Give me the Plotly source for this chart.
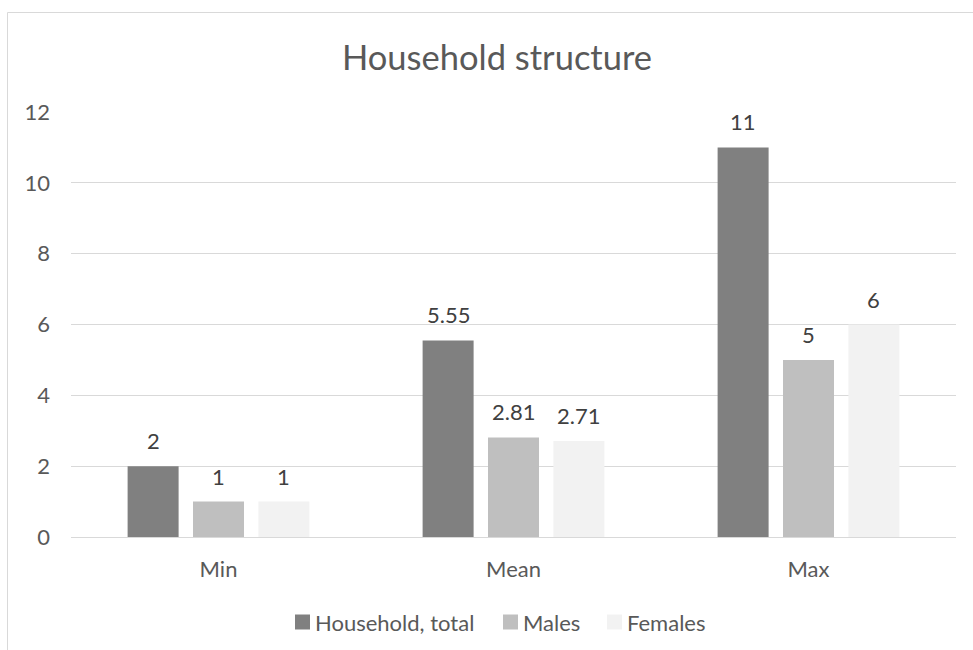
import plotly.graph_objects as go

# Household size statistics
categories = ["Min", "Mean", "Max"]
series_names = ["Household, total", "Males", "Females"]
household_total = [2, 5.55, 11]
males = [1, 2.81, 5]
females = [1, 2.71, 6]
y_ticks = [0, 2, 4, 6, 8, 10, 12]

series_values = [household_total, males, females]
series_colors = ["#808080", "#BFBFBF", "#F2F2F2"]

FONT = "Lato"
BARGAP = 0.335
GROUPGAP = 0.22

W, H = 973, 650
ML, MR, MT, MB = 71, 17, 112, 113
plot_w = W - ML - MR
plot_h = H - MT - MB


def px_x(px):
    """Horizontal pixel -> paper coordinate."""
    return (px - ML) / plot_w


def px_y(py):
    """Vertical pixel (from top) -> paper coordinate."""
    return (H - MB - py) / plot_h


fig = go.Figure()
for name, vals, col in zip(series_names, series_values, series_colors):
    fig.add_trace(go.Bar(
        x=categories, y=vals, name=name,
        marker=dict(color=col, line=dict(width=0)),
        hoverinfo="x+y+name", showlegend=False,
    ))

# Value labels above each bar, placed on the data axes
slot_px = plot_w / len(categories) * (1 - BARGAP) / len(series_values)
for j, vals in enumerate(series_values):
    for cat, v in zip(categories, vals):
        fig.add_annotation(
            x=cat, y=v, xref="x", yref="y",
            text=f"{v:g}", showarrow=False,
            xshift=(j - 1) * slot_px, yshift=10,
            yanchor="bottom", xanchor="center",
            font=dict(family=FONT, size=22, color="#404040"),
        )

# Legend below the axis: swatch + label for each series
legend_left = [295, 503, 607]
swatch = 15
legend_mid = 622
for name, col, x0 in zip(series_names, series_colors, legend_left):
    fig.add_shape(type="rect", xref="paper", yref="paper",
                  x0=px_x(x0), x1=px_x(x0 + swatch),
                  y0=px_y(legend_mid - swatch / 2), y1=px_y(legend_mid + swatch / 2),
                  fillcolor=col, line=dict(width=0))
    fig.add_annotation(x=px_x(x0 + swatch + 3), y=px_y(legend_mid),
                       xref="paper", yref="paper", text=name, showarrow=False,
                       xanchor="left", yanchor="middle",
                       font=dict(family=FONT, size=22, color="#595959"))

# Chart frame
fig.add_shape(type="rect", xref="paper", yref="paper",
              x0=px_x(7.5), x1=px_x(1100), y0=px_y(12.5), y1=px_y(800),
              line=dict(color="#D9D9D9", width=1), fillcolor="rgba(0,0,0,0)",
              layer="below")

fig.update_layout(
    width=W, height=H,
    margin=dict(l=ML, r=MR, t=MT, b=MB),
    paper_bgcolor="white", plot_bgcolor="white",
    barmode="group", bargap=BARGAP, bargroupgap=GROUPGAP,
    title=dict(text="Household structure", x=497 / W, xanchor="center",
               y=1 - 58 / H, yanchor="middle",
               font=dict(family=FONT, size=34.5, color="#595959")),
    font=dict(family=FONT, size=22, color="#595959"),
    showlegend=False,
    xaxis=dict(showgrid=False, showline=True, linecolor="#D9D9D9", linewidth=1,
               ticks="", ticklabelstandoff=13,
               tickfont=dict(family=FONT, size=22, color="#595959"),
               fixedrange=True),
    yaxis=dict(range=[0, 12], tickvals=y_ticks, showgrid=True,
               gridcolor="#D9D9D9", gridwidth=1, zeroline=False,
               showline=False, ticks="", ticklabelstandoff=20,
               tickfont=dict(family=FONT, size=22, color="#595959"),
               fixedrange=True),
)

fig.write_html("out.html")
